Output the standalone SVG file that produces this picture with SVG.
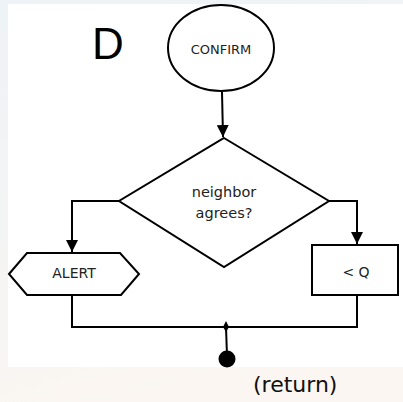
<svg xmlns="http://www.w3.org/2000/svg" width="403" height="402" viewBox="0 0 403 402">
<defs>
<linearGradient id="bg" x1="0" y1="0" x2="0.3" y2="1">
<stop offset="0" stop-color="#eef3f7"/>
<stop offset="0.55" stop-color="#f4f4f4"/>
<stop offset="1" stop-color="#fbf6f1"/>
</linearGradient>
<marker id="ah" viewBox="0 0 12 12" refX="12" refY="6" markerWidth="12" markerHeight="12" markerUnits="userSpaceOnUse" orient="auto">
<path d="M0,0 L12,6 L0,12 Z" fill="#000"/>
</marker>
<style>
.s{fill:#fff;stroke:#000;stroke-width:2}
.c{fill:none;stroke:#000;stroke-width:2}
.t{font-family:"DejaVu Sans",sans-serif;font-size:13px;fill:#222;text-anchor:middle}
</style>
</defs>
<rect x="0" y="0" width="403" height="402" fill="url(#bg)"/>
<rect x="8" y="4" width="395" height="363" fill="#fff"/>
<text x="92" y="59" font-family="'Liberation Sans',Arial,sans-serif" font-size="44" fill="#000">D</text>
<g id="connectors">
<path class="c" d="M222,92 L223,137" marker-end="url(#ah)"/>
<path class="c" d="M119,201 L72,201 L72,252" marker-end="url(#ah)"/>
<path class="c" d="M329,201 L357,201 L357,244" marker-end="url(#ah)"/>
<path class="c" d="M72,295 L72,327 L357,327 L357,295"/>
<path class="c" d="M226,327 L227,356"/>
<path d="M226,321 L229,327 L226,332 L223,327 Z" fill="#000"/>
</g>
<g id="confirm">
<ellipse class="s" cx="221" cy="48" rx="53" ry="43"/>
<text class="t" x="221" y="54" font-size="13.5">CONFIRM</text>
</g>
<g id="decision">
<path class="s" d="M224,138 L329,201 L224,267 L119,201 Z"/>
<text class="t" x="224" y="197" style="font-size:14.5px">neighbor</text>
<text class="t" x="224" y="218" style="font-size:14.5px">agrees?</text>
</g>
<g id="alert">
<path class="s" d="M9,274 L27,253 L120,253 L139,274 L121,295 L27,295 Z"/>
<text class="t" x="74" y="278" style="font-size:14px">ALERT</text>
</g>
<g id="lessq">
<rect class="s" x="312" y="245" width="86" height="50"/>
<text class="t" x="356" y="277" style="font-size:14px">&lt; Q</text>
</g>
<g id="end">
<circle cx="227" cy="359" r="8.5" fill="#000"/>
</g>
<text x="253" y="392" font-family="'DejaVu Sans',sans-serif" font-size="22" fill="#111">(return)</text>
</svg>
